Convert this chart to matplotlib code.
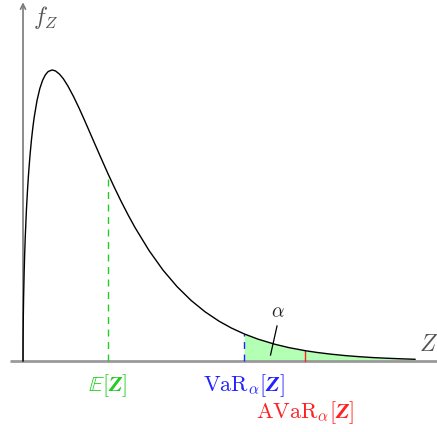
import numpy as np
import matplotlib
matplotlib.use("Agg")
import matplotlib.pyplot as plt

plt.rcParams["mathtext.fontset"] = "cm"

# Density of the loss Z, sampled along the curve
z = [0.0, 0.0003, 0.001, 0.002, 0.005, 0.01, 0.02, 0.03, 0.04, 0.06, 0.08,
     0.1, 0.125, 0.15, 0.175, 0.2, 0.25, 0.3, 0.35, 0.4, 0.45, 0.52, 0.58,
     0.65, 0.72, 0.8, 0.9, 1.0, 1.1, 1.25, 1.38, 1.52, 1.63, 1.75, 1.88,
     2.0, 2.25, 2.5, 2.75, 3.0, 3.25, 3.5, 3.72, 3.95, 4.2, 4.5, 4.75,
     5.04, 5.25, 5.5, 5.75, 6.0, 6.25, 6.5, 6.75, 7.0]
f_z = [0.0, 0.0166, 0.0310, 0.0444, 0.0714, 0.1018, 0.1446, 0.1767, 0.2031,
       0.2459, 0.2798, 0.3081, 0.3374, 0.3619, 0.3824, 0.3998, 0.4270,
       0.4466, 0.4602, 0.4693, 0.4746, 0.4771, 0.4755, 0.4704, 0.4627,
       0.4511, 0.4339, 0.4148, 0.3944, 0.3627, 0.3354, 0.3065, 0.2848,
       0.2621, 0.2389, 0.2188, 0.1812, 0.1490, 0.1220, 0.0994, 0.0807,
       0.0653, 0.0541, 0.0444, 0.0357, 0.0274, 0.0219, 0.0169, 0.0140,
       0.0112, 0.0089, 0.0071, 0.0056, 0.0045, 0.0036, 0.0028]

# Risk measures marked on the z-axis
mean_z = 1.52
var_z = 3.95
avar_z = 5.04

labels = {
    "mean": r"$\mathbb{E}[\mathbfit{Z}]$",
    "var": r"$\mathrm{VaR}_{\alpha}[\mathbfit{Z}]$",
    "avar": r"$\mathrm{AVaR}_{\alpha}[\mathbfit{Z}]$",
}

z = np.array(z)
f_z = np.array(f_z)

fig = plt.figure(figsize=(4.37, 4.32), dpi=100)
ax = fig.add_axes([0, 0, 1, 1])
ax.set_xlim(-0.411, 7.393)
ax.set_ylim(-0.1164, 0.5918)
ax.axis("off")

axis_gray = "#9a9a9a"
green = "#22cc22"
green_fill = "#b3ffb3"
blue = "#2222ff"
red = "#ff2222"

# Tail area beyond VaR
tail = z >= var_z
ax.fill_between(z[tail], 0, f_z[tail], color=green_fill, lw=0, zorder=1)

# Axes
ax.plot([-0.232, 7.393], [0, 0], color=axis_gray, lw=2.0, zorder=2,
        solid_capstyle="butt")
ax.annotate("", xy=(0, 0.588), xytext=(0, 0),
            arrowprops=dict(arrowstyle="->", color="#7a7a7a", lw=1.2,
                            shrinkA=0, shrinkB=0, mutation_scale=9),
            zorder=2)

# Density curve
ax.plot(z, f_z, color="black", lw=1.0, zorder=4, solid_joinstyle="round")

# Marker lines up to the curve
h_mean = np.interp(mean_z, z, f_z)
h_var = np.interp(var_z, z, f_z)
h_avar = np.interp(avar_z, z, f_z)
ax.plot([mean_z, mean_z], [0, h_mean], color=green, lw=1.0,
        dashes=(5, 4), zorder=3)
ax.plot([var_z, var_z], [0, h_var], color=blue, lw=1.0,
        dashes=(5, 4), zorder=3)
ax.plot([avar_z, avar_z], [0, h_avar], color=red, lw=1.0, zorder=3)

# alpha pointer into the tail area
ax.plot([4.536, 4.420], [0.0574, 0.0098], color="black", lw=0.9, zorder=5)
ax.text(4.555, 0.0802, r"$\alpha$", fontsize=14, ha="center", va="center",
        color="#222222")

# Axis labels
ax.text(0.40, 0.563, r"$f_{Z}$", fontsize=17, ha="center", va="center",
        color="#555555")
ax.text(7.24, 0.0274, r"$Z$", fontsize=17, ha="center", va="center",
        color="#555555")

# Risk-measure labels
ax.text(mean_z, -0.0410, labels["mean"], fontsize=16, ha="center",
        va="center", color=green)
ax.text(var_z, -0.0410, labels["var"], fontsize=16, ha="center",
        va="center", color=blue)
ax.text(avar_z, -0.0853, labels["avar"], fontsize=16, ha="center",
        va="center", color=red)

fig.savefig("out.png", dpi=100)
